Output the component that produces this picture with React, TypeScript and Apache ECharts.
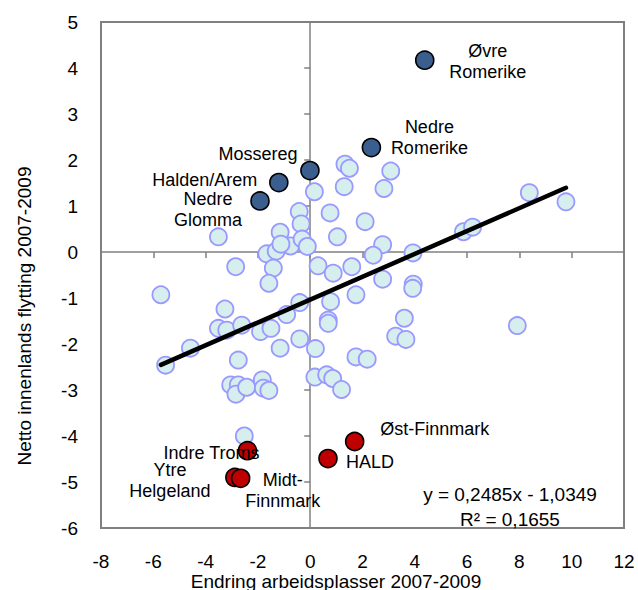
import React, { useEffect, useRef } from 'react';
import * as echarts from 'echarts';

// Other regions (light points): [job change, net migration]
const otherRegions: [number, number][] = [
  [-3.51, 0.33], [0.16, 1.31], [-0.42, 0.88], [-0.35, 0.61], [-1.15, 0.43],
  [-0.75, 0.13], [-0.31, 0.28], [-0.11, 0.12], [-1.66, -0.04], [-1.30, 0.02],
  [-1.12, 0.17], [1.33, 1.91], [1.50, 1.82], [3.08, 1.76], [1.30, 1.42],
  [2.82, 1.38], [0.76, 0.85], [2.10, 0.66], [1.04, 0.33], [2.77, 0.16],
  [8.38, 1.29], [9.78, 1.09], [5.86, 0.44], [6.21, 0.54],
  [2.41, -0.07], [3.93, -0.02], [0.30, -0.30], [0.88, -0.46], [1.59, -0.32],
  [2.77, -0.59], [3.94, -0.70], [3.92, -0.79], [1.75, -0.93], [0.78, -1.08],
  [-2.85, -0.32], [-1.41, -0.35], [-1.58, -0.68], [-5.71, -0.93], [-0.40, -1.10],
  [-0.90, -1.36], [-3.26, -1.24], [-3.51, -1.66], [-3.19, -1.70], [-2.62, -1.59],
  [-1.90, -1.73], [-1.50, -1.66], [-1.15, -2.09], [-0.40, -1.89], [-4.58, -2.09],
  [-5.53, -2.46], [-2.75, -2.35], [0.20, -2.10], [0.18, -2.72], [0.63, -2.67],
  [0.86, -2.75], [1.20, -2.99], [0.69, -1.48], [0.69, -1.55], [3.60, -1.44],
  [3.27, -1.83], [3.66, -1.90], [1.75, -2.28], [2.18, -2.33], [7.92, -1.60],
  [-3.04, -2.89], [-2.75, -2.89], [-2.84, -3.09], [-2.43, -2.94], [-1.83, -2.78],
  [-1.79, -2.96], [-1.58, -3.01], [-2.52, -4.00],
];

// Highlighted growth regions (dark blue)
const growthNames = ['Øvre\nRomerike', 'Nedre\nRomerike', 'Mossereg', 'Halden/Arem', 'Nedre\nGlomma'];
const growthX = [4.38, 2.34, -0.01, -1.2, -1.92];
const growthY = [4.17, 2.27, 1.77, 1.51, 1.11];

// Highlighted decline regions (red)
const declineNames = ['Indre Troms', 'Ytre\nHelgeland', 'Midt-\nFinnmark', 'HALD', 'Øst-Finnmark'];
const declineX = [-2.4, -2.88, -2.66, 0.68, 1.7];
const declineY = [-4.32, -4.9, -4.92, -4.49, -4.12];

// Linear trend
const trendSlope = 0.2485;
const trendIntercept = -1.0349;
const trendText = ['y = 0,2485x - 1,0349', 'R² = 0,1655'];

const xTitle = 'Endring arbeidsplasser 2007-2009';
const yTitle = 'Netto innenlands flytting 2007-2009';

// label placement (style only)
const labelOffsets: Record<string, [number, number]> = {
  'Øvre\nRomerike': [63, 1],
  'Nedre\nRomerike': [58, -10],
  'Mossereg': [-52, -17],
  'Halden/Arem': [-74, -3],
  'Nedre\nGlomma': [-52, 9],
  'Indre Troms': [-36, 2],
  'Ytre\nHelgeland': [-65, 3],
  'Midt-\nFinnmark': [42, 12],
  'HALD': [42, 3],
  'Øst-Finnmark': [80, -13],
};

const FONT = 'Liberation Sans, Arial, sans-serif';

export default function App() {
  const ref = useRef<HTMLDivElement>(null);
  useEffect(() => {
    if (!ref.current) return;
    const chart = echarts.init(ref.current, undefined, { renderer: 'svg' });

    const allX = [...otherRegions.map((p) => p[0]), ...growthX, ...declineX];
    const minX = Math.min(...allX);
    const maxX = Math.max(...allX);
    const trend = [
      [minX, trendSlope * minX + trendIntercept],
      [maxX, trendSlope * maxX + trendIntercept],
    ];

    const mkLabelled = (names: string[], xs: number[], ys: number[]) =>
      names.map((n, i) => ({
        name: n,
        value: [xs[i], ys[i]],
        label: {
          show: true,
          formatter: n,
          position: 'inside',
          align: 'center',
          verticalAlign: 'middle',
          offset: labelOffsets[n],
          fontSize: 18,
          lineHeight: 21,
          color: '#000',
          fontFamily: FONT,
        },
      }));

    const axisLabelStyle = { fontSize: 19, color: '#000', fontFamily: FONT, lineHeight: 19 };

    chart.setOption({
      animation: false,
      backgroundColor: '#fff',
      grid: {
        left: 101,
        top: 22,
        right: 14,
        bottom: 62,
        show: true,
        borderColor: '#808080',
        borderWidth: 2,
      },
      xAxis: [
        {
          type: 'value', min: -8, max: 12, interval: 2, position: 'bottom',
          axisLine: { show: false, onZero: false },
          axisTick: { show: false },
          splitLine: { show: false },
          axisLabel: { ...axisLabelStyle, margin: 24 },
        },
        {
          type: 'value', min: -8, max: 12, interval: 2, position: 'top',
          axisLine: { show: true, onZero: true, onZeroAxisIndex: 0, lineStyle: { color: '#808080', width: 1.5 } },
          axisTick: { show: true, inside: true, length: 6, lineStyle: { color: '#808080', width: 1.5 } },
          splitLine: { show: false },
          axisLabel: { show: false },
        },
      ],
      yAxis: [
        {
          type: 'value', min: -6, max: 5, interval: 1, position: 'left',
          axisLine: { show: false, onZero: false },
          axisTick: { show: false },
          splitLine: { show: false },
          axisLabel: { ...axisLabelStyle, margin: 23 },
        },
        {
          type: 'value', min: -6, max: 5, interval: 1, position: 'right',
          axisLine: { show: true, onZero: true, onZeroAxisIndex: 0, lineStyle: { color: '#808080', width: 1.5 } },
          axisTick: { show: true, inside: true, length: 6, lineStyle: { color: '#808080', width: 1.5 } },
          splitLine: { show: false },
          axisLabel: { show: false },
        },
      ],
      series: [
        {
          type: 'scatter',
          data: otherRegions,
          symbolSize: 17,
          itemStyle: { color: '#d6eeee', borderColor: '#9999ff', borderWidth: 1.8, opacity: 1 },
          z: 2,
        },
        {
          type: 'line',
          data: trend,
          showSymbol: false,
          symbol: 'none',
          lineStyle: { color: '#000', width: 4.5, cap: 'round' },
          z: 3,
        },
        {
          type: 'scatter',
          data: mkLabelled(growthNames, growthX, growthY),
          symbolSize: 18,
          itemStyle: { color: '#3a5f8f', borderColor: '#000', borderWidth: 1.6, opacity: 1 },
          z: 4,
        },
        {
          type: 'scatter',
          data: mkLabelled(declineNames, declineX, declineY),
          symbolSize: 18,
          itemStyle: { color: '#c00000', borderColor: '#000', borderWidth: 1.6, opacity: 1 },
          z: 4,
        },
      ],
      graphic: [
        {
          type: 'text', x: 510, y: 494,
          style: { text: trendText[0], font: `19px ${FONT}`, fill: '#000', textAlign: 'center', textVerticalAlign: 'middle' },
        },
        {
          type: 'text', x: 510, y: 519,
          style: { text: trendText[1], font: `19px ${FONT}`, fill: '#000', textAlign: 'center', textVerticalAlign: 'middle' },
        },
        {
          type: 'text', x: 336, y: 581,
          style: { text: xTitle, font: `19px ${FONT}`, fill: '#000', textAlign: 'center', textVerticalAlign: 'middle' },
        },
        {
          type: 'text', x: 24, y: 316, rotation: Math.PI / 2,
          style: { text: yTitle, font: `19px ${FONT}`, fill: '#000', textAlign: 'center', textVerticalAlign: 'middle' },
        },
      ],
    });
    return () => chart.dispose();
  }, []);

  return (
    <div
      ref={ref}
      style={{ position: 'fixed', left: 0, top: 0, width: 638, height: 590, background: '#fff' }}
    />
  );
}
